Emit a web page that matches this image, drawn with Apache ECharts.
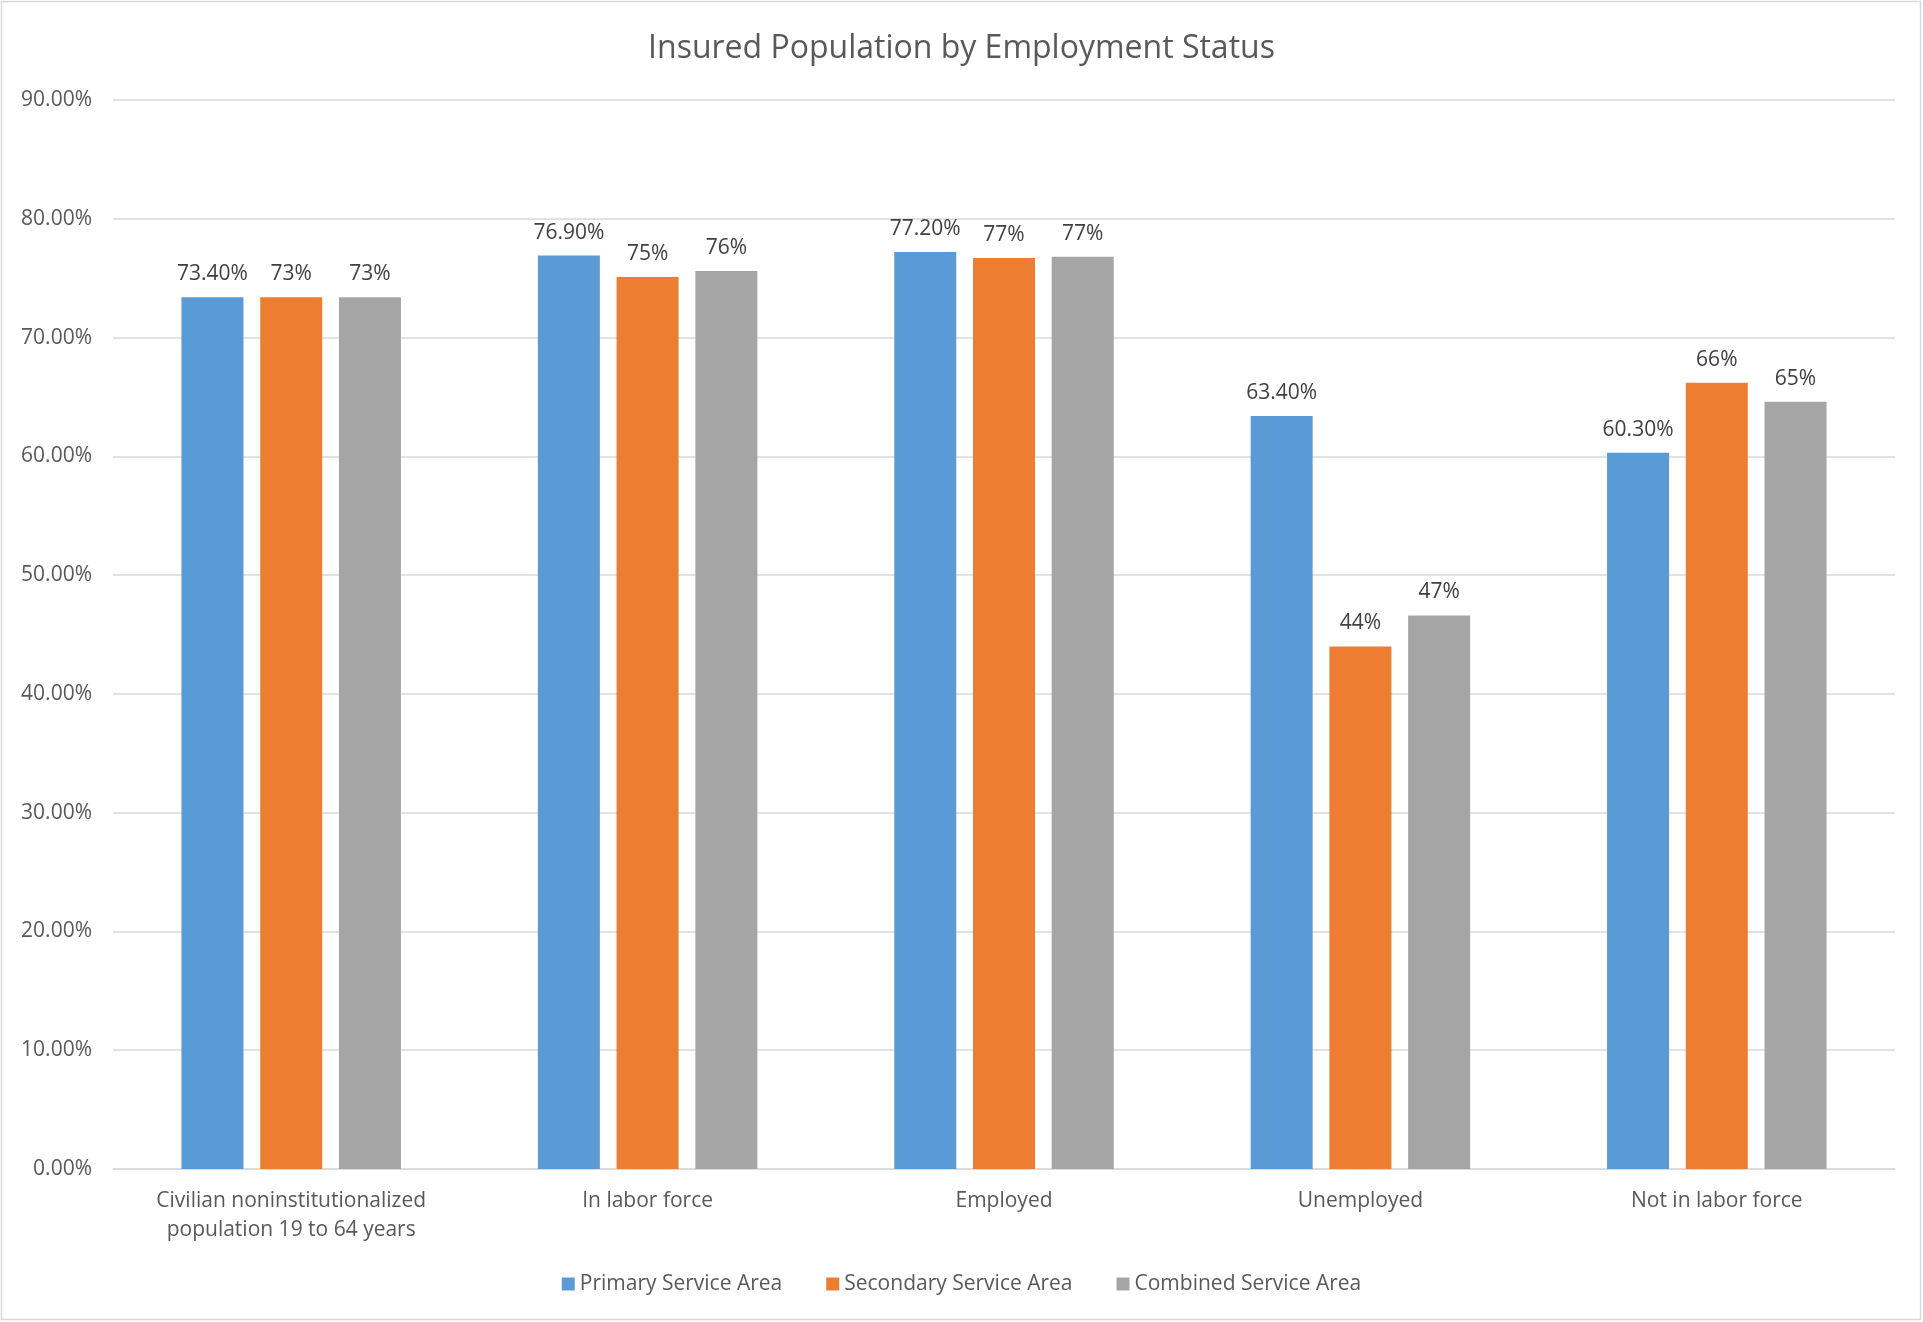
<!DOCTYPE html>
<html>
<head>
<meta charset="utf-8">
<script src="https://cdn.jsdelivr.net/npm/echarts@6/dist/echarts.min.js"></script>
<style>
html,body{margin:0;padding:0;background:#fff;}
#chart{width:1923px;height:1322px;}
</style>
</head>
<body>
<div id="chart"></div>
<script>
const categories = [
  "Civilian noninstitutionalized\npopulation 19 to 64 years",
  "In labor force",
  "Employed",
  "Unemployed",
  "Not in labor force"
];
const seriesNames = ["Primary Service Area", "Secondary Service Area", "Combined Service Area"];
const primary = [73.4, 76.9, 77.2, 63.4, 60.3];
const secondary = [73.4, 75.1, 76.7, 44.0, 66.2];
const combined = [73.4, 75.6, 76.8, 46.6, 64.6];
const yTicks = { min: 0, max: 90, interval: 10 };

const FONT = '"Open Sans", "Noto Sans", sans-serif';
const colors = ['#5B9BD5', '#ED7D31', '#A5A5A5'];
const decimals = [2, 0, 0];

const chart = echarts.init(document.getElementById('chart'), null, {renderer: 'canvas'});

function mkSeries(name, data, i) {
  return {
    name: name,
    type: 'bar',
    data: data,
    barWidth: 62,
    barGap: '27%',
    itemStyle: { color: colors[i] },
    label: {
      show: true,
      position: 'top',
      distance: 10,
      fontFamily: FONT,
      fontSize: 21,
      lineHeight: 26,
      color: '#404040',
      formatter: p => p.value.toFixed(decimals[i]) + '%'
    }
  };
}

chart.setOption({
  animation: false,
  backgroundColor: '#ffffff',
  textStyle: { fontFamily: FONT },
  graphic: [{
    type: 'rect',
    shape: { x: 1.5, y: 1.5, width: 1919, height: 1318 },
    style: { fill: 'none', stroke: '#d9d9d9', lineWidth: 1.5 },
    silent: true
  }],
  title: {
    text: 'Insured Population by Employment Status',
    left: 'center',
    top: 24,
    textStyle: { fontFamily: FONT, fontSize: 32, fontWeight: 'normal', color: '#595959', lineHeight: 40 }
  },
  legend: {
    data: seriesNames,
    top: 1266,
    left: 'center',
    itemWidth: 13,
    itemHeight: 13,
    itemGap: 44,
    icon: 'rect',
    textStyle: { fontFamily: FONT, fontSize: 21, color: '#595959', lineHeight: 26 }
  },
  grid: { left: 113, right: 28, top: 100, bottom: 153, containLabel: false },
  xAxis: {
    type: 'category',
    data: categories,
    axisLine: { show: true, lineStyle: { color: '#d9d9d9', width: 1.5 } },
    axisTick: { show: false },
    axisLabel: {
      interval: 0,
      margin: 18,
      fontFamily: FONT,
      fontSize: 21,
      lineHeight: 29,
      color: '#595959'
    }
  },
  yAxis: {
    type: 'value',
    min: yTicks.min,
    max: yTicks.max,
    interval: yTicks.interval,
    axisLine: { show: false },
    axisTick: { show: false },
    splitLine: { lineStyle: { color: '#d9d9d9', width: 1.5 } },
    axisLabel: {
      margin: 21,
      fontFamily: FONT,
      fontSize: 21,
      color: '#595959',
      formatter: v => v.toFixed(2) + '%'
    }
  },
  series: [
    mkSeries(seriesNames[0], primary, 0),
    mkSeries(seriesNames[1], secondary, 1),
    mkSeries(seriesNames[2], combined, 2)
  ]
});
</script>
</body>
</html>
